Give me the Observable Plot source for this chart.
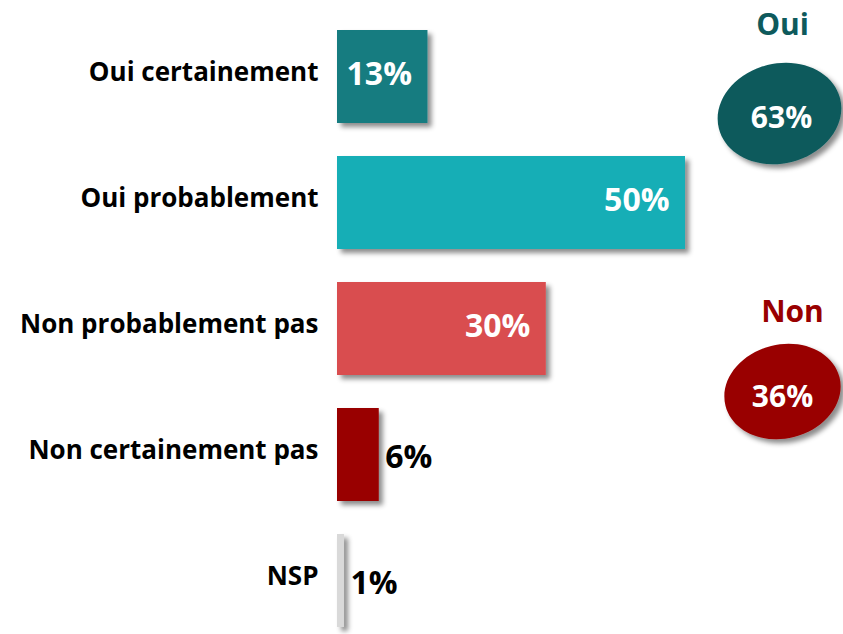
<!DOCTYPE html>
<html><head><meta charset="utf-8">
<script src="https://cdn.jsdelivr.net/npm/d3@7"></script>
<script src="https://cdn.jsdelivr.net/npm/@observablehq/plot@0.6"></script>
<style>
body{margin:0;background:#fff}
#chart{width:843px;height:634px}
</style>
</head><body><div id="chart"></div>
<script>
const categories = ["Oui certainement","Oui probablement","Non probablement pas","Non certainement pas","NSP"];
const values = [13,50,30,6,1];
const barColors = ["#137b80","#13aeb6","#d94d50","#990000","#d9d9d9"];
const summaryLabels = ["Oui","Non"];
const summaryValues = [63,36];
const summaryColors = ["#0e5a5c","#990000"];

const data = categories.map((c,i)=>({cat:c, value:values[i], color:barColors[i]}));
const FONT = "'Open Sans', sans-serif";

// tilted ellipse symbol
const ellipse = {
  draw(ctx, size) {
    const r = Math.sqrt(size/Math.PI);
    const rx = r*1.25, ry = r, a = -14*Math.PI/180, k = 0.5523;
    const c = Math.cos(a), s = Math.sin(a);
    const P = (x,y)=>[x*c - y*s, x*s + y*c];
    const pts = [
      [P(rx,0)],
      [P(rx,ry*k),P(rx*k,ry),P(0,ry)],
      [P(-rx*k,ry),P(-rx,ry*k),P(-rx,0)],
      [P(-rx,-ry*k),P(-rx*k,-ry),P(0,-ry)],
      [P(rx*k,-ry),P(rx,-ry*k),P(rx,0)]
    ];
    ctx.moveTo(...pts[0][0]);
    for (let i=1;i<5;i++) ctx.bezierCurveTo(...pts[i][0],...pts[i][1],...pts[i][2]);
    ctx.closePath();
  }
};

const txt = {frameAnchor: "top-left", textAnchor: "middle", lineAnchor: "middle", fontWeight: 700};

const chart = Plot.plot({
  width: 843,
  height: 634,
  marginLeft: 337,
  marginRight: 0,
  marginTop: 23,
  marginBottom: 0,
  style: {fontFamily: FONT, background: "#fff", overflow: "visible"},
  x: {domain: [0, 72.7], axis: null},
  y: {domain: categories, padding: 0.26, paddingOuter: 0.05, label: null},
  marks: [
    Plot.axisY({tickSize: 0, tickPadding: 19, dy: -4, fontSize: 26, fontWeight: 700, fill: "#000", label: null, tickFormat: d=>d}),
    Plot.barX(data, {x: "value", y: "cat", fill: "color", className: "shadowed"}),
    Plot.text(data.filter(d=>d.value>=10), {x: "value", y: "cat", text: d=>d.value+"%", textAnchor: "end", dx: -16, dy: -2, fill: "#fff", fontSize: 32, fontWeight: 700}),
    Plot.text(data.filter(d=>d.value<10), {x: "value", y: "cat", text: d=>d.value+"%", textAnchor: "start", dx: 6, dy: 3, fill: "#000", fontSize: 32, fontWeight: 700}),
    Plot.text([summaryLabels[0]], {...txt, text: d=>d, dx: 445, dy: 2, fill: summaryColors[0], fontSize: 30}),
    Plot.dot([summaryValues[0]], {frameAnchor: "top-left", dx: 442, dy: 90, r: 50, symbol: ellipse, fill: summaryColors[0], stroke: "none", className: "shadowed"}),
    Plot.text([summaryValues[0]], {...txt, text: d=>d+"%", dx: 444, dy: 95, fill: "#fff", fontSize: 30}),
    Plot.text([summaryLabels[1]], {...txt, text: d=>d, dx: 455, dy: 289, fill: summaryColors[1], fontSize: 30}),
    Plot.dot([summaryValues[1]], {frameAnchor: "top-left", dx: 445, dy: 368, r: 47, symbol: ellipse, fill: summaryColors[1], stroke: "none", className: "shadowed"}),
    Plot.text([summaryValues[1]], {...txt, text: d=>d+"%", dx: 445, dy: 374, fill: "#fff", fontSize: 30})
  ]
});

const svg = d3.select(chart);
const defs = svg.insert("defs", ":first-child");
const f = defs.append("filter").attr("id","shadow").attr("x","-20%").attr("y","-20%").attr("width","150%").attr("height","150%");
f.append("feDropShadow").attr("dx",4).attr("dy",4).attr("stdDeviation",2.5).attr("flood-color","#000").attr("flood-opacity",0.45);
svg.selectAll(".shadowed").attr("filter","url(#shadow)");
document.getElementById("chart").appendChild(chart);
</script>
</body></html>
